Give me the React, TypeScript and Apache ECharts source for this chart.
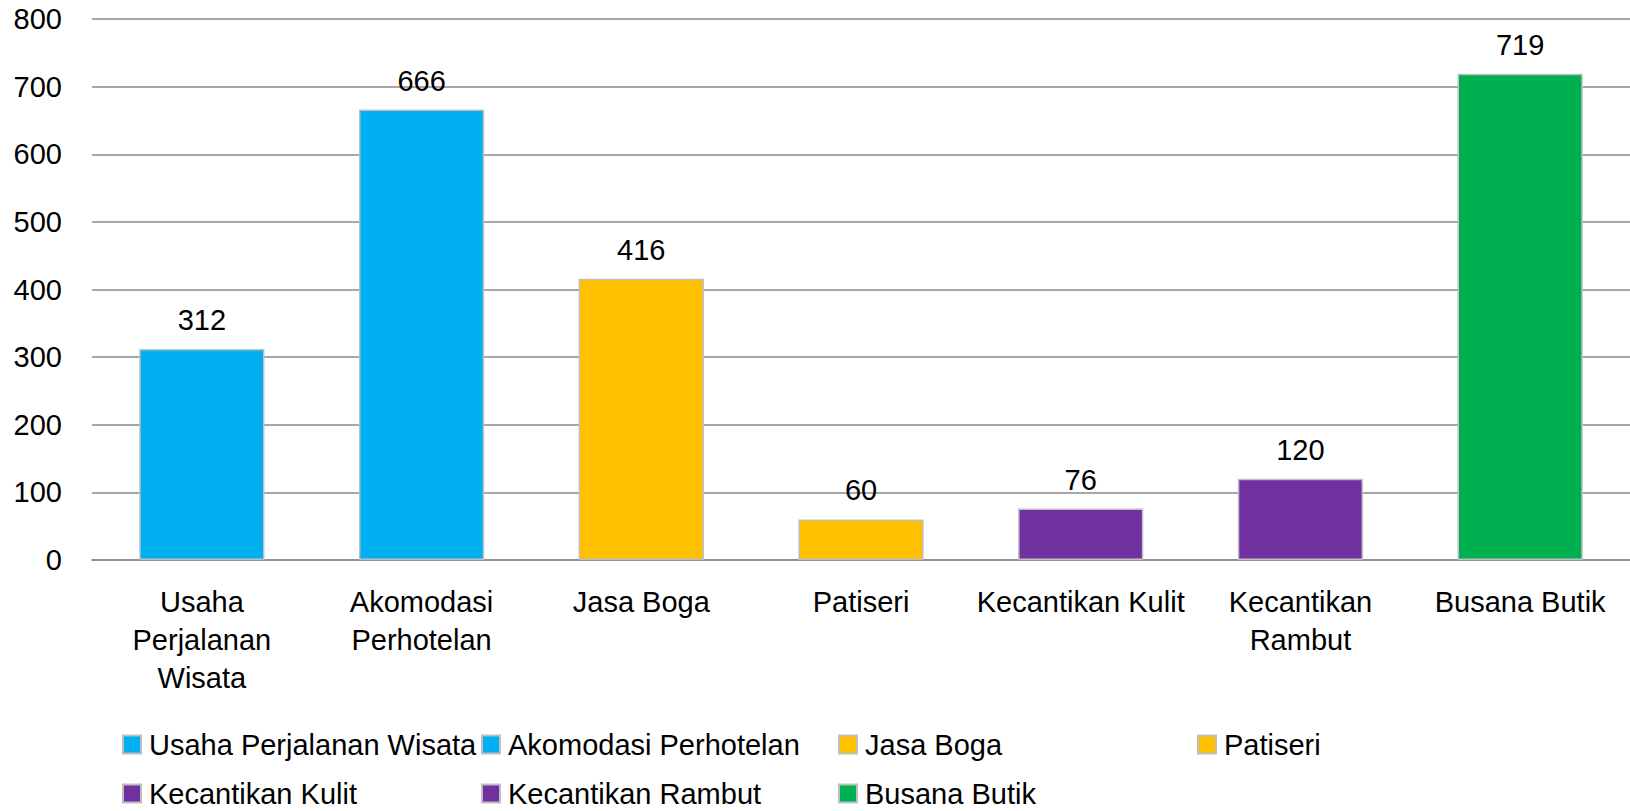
import React, { useEffect, useRef } from "react";
import * as echarts from "echarts";

const categories = [
  "Usaha Perjalanan Wisata",
  "Akomodasi Perhotelan",
  "Jasa Boga",
  "Patiseri",
  "Kecantikan Kulit",
  "Kecantikan Rambut",
  "Busana Butik",
];
const tickLabels = [
  "Usaha\nPerjalanan\nWisata",
  "Akomodasi\nPerhotelan",
  "Jasa Boga",
  "Patiseri",
  "Kecantikan Kulit",
  "Kecantikan\nRambut",
  "Busana Butik",
];
const values = [312, 666, 416, 60, 76, 120, 719];
const colors = ["#00B0F0", "#00B0F0", "#FFC000", "#FFC000", "#7030A0", "#7030A0", "#00B050"];
const yTicks = { min: 0, max: 800, interval: 100 };

// legend layout (position of each legend item)
const legendPos = [
  { left: 122, top: 730 },
  { left: 481, top: 730 },
  { left: 838, top: 730 },
  { left: 1197, top: 730 },
  { left: 122, top: 779 },
  { left: 481, top: 779 },
  { left: 838, top: 779 },
];

const FONT = "'Liberation Sans', Arial, sans-serif";
const GRID_COLOR = "#8a8a8a";
const FS = 29;

export default function App() {
  const ref = useRef<HTMLDivElement>(null);
  useEffect(() => {
    if (!ref.current) return;
    const chart = echarts.init(ref.current, null, { renderer: "svg" });
    const series = categories.map((name, i) => ({
      type: "bar",
      name,
      stack: "all",
      barWidth: "57%",
      data: values.map((v, j) => (j === i ? v : "-")),
      itemStyle: { color: colors[i], borderColor: "#bfbfbf", borderWidth: 1.5 },
      label: {
        show: true,
        position: "top",
        distance: 15,
        color: "#000",
        fontSize: FS,
        lineHeight: 28,
        fontFamily: FONT,
      },
    }));
    chart.setOption({
      animation: false,
      textStyle: { fontFamily: FONT },
      grid: { left: 92, right: 0, top: 19, bottom: 251, containLabel: false },
      legend: categories.map((name, i) => ({
        data: [name],
        left: legendPos[i].left,
        top: legendPos[i].top,
        padding: 0,
        itemWidth: 18,
        itemHeight: 18,
        itemGap: 9,
        icon: "rect",
        selectedMode: false,
        textStyle: { fontSize: FS, lineHeight: 24, color: "#000", fontFamily: FONT, padding: [0, 0, 0, 3] },
      })),
      xAxis: {
        type: "category",
        data: tickLabels,
        axisLine: { show: true, lineStyle: { color: GRID_COLOR, width: 1.5 } },
        axisTick: { show: false },
        axisLabel: {
          color: "#000",
          fontSize: FS,
          lineHeight: 38,
          margin: 23,
          interval: 0,
          fontFamily: FONT,
        },
      },
      yAxis: {
        type: "value",
        min: yTicks.min,
        max: yTicks.max,
        interval: yTicks.interval,
        axisLine: { show: false },
        axisTick: { show: false },
        axisLabel: { color: "#000", fontSize: FS, margin: 30, fontFamily: FONT },
        splitLine: { lineStyle: { color: GRID_COLOR, width: 1.5 } },
      },
      series,
    });
    return () => chart.dispose();
  }, []);
  return (
    <div
      ref={ref}
      style={{ position: "fixed", left: 0, top: 0, width: 1630, height: 811, background: "#fff" }}
    />
  );
}
